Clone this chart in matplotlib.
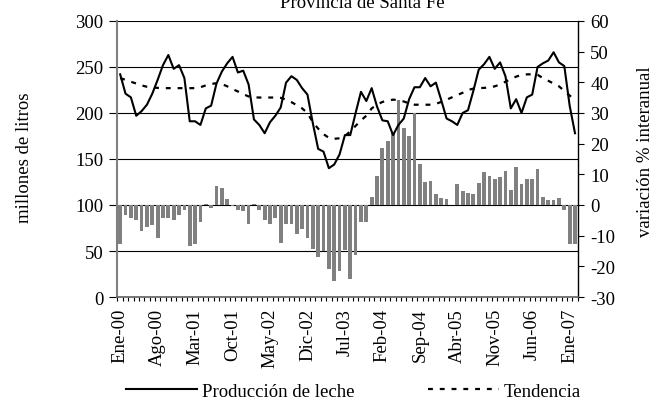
import matplotlib
matplotlib.use("Agg")
import matplotlib.pyplot as plt
from matplotlib.lines import Line2D
from matplotlib.transforms import blended_transform_factory

plt.rcParams['font.family'] = ['Liberation Serif', 'DejaVu Serif']
plt.rcParams['font.size'] = 13.5
plt.rcParams['axes.unicode_minus'] = False

# ---------------------------------------------------------------
# datos: Ene-00 .. Feb-07 (mensual)
# ---------------------------------------------------------------
meses = ['Ene', 'Feb', 'Mar', 'Abr', 'May', 'Jun',
         'Jul', 'Ago', 'Sep', 'Oct', 'Nov', 'Dic']
anios = ['00', '01', '02', '03', '04', '05', '06', '07']
n_meses = 86
categorias = [meses[k % 12] + '-' + anios[k // 12] for k in range(n_meses)]

# produccion de leche (millones de litros)
produccion = [242, 221, 217, 197, 202, 209, 221, 236, 252, 263, 248, 252,
              238, 191, 191, 187, 205, 208, 232, 245, 254, 261, 244, 246,
              231, 193, 187, 178, 190, 197, 206, 233, 240, 236, 227, 220,
              189, 161, 158, 140, 144, 155, 176, 176, 200, 223, 213, 227,
              207, 192, 191, 176, 187, 194, 215, 228, 228, 238, 229, 233,
              214, 194, 191, 187, 200, 203, 224, 247, 253, 261, 248, 255,
              240, 205, 215, 200, 217, 220, 250, 254, 257, 266, 255, 251,
              208, 178]

# tendencia
tendencia = [238, 236, 234, 232, 230, 228.5, 227.7, 227.3, 227, 227, 227, 227,
             227, 227, 227, 228, 230, 231.5, 232.4, 231.5, 229, 226, 223.4, 220.5,
             218, 217, 216.8, 216.8, 216.8, 216.8, 216.5, 214.5, 211.8, 208.5, 205, 200,
             190, 183, 177, 173, 172, 172.5, 175, 180, 186, 192, 197, 205,
             209, 212, 213.5, 214.5, 214, 212.5, 210.5, 209, 209, 209, 209, 210,
             212, 214.5, 217, 219.5, 222, 225, 226.5, 227, 227.3, 227.6, 229, 231,
             234, 237, 239.5, 241.5, 242, 242, 241.5, 238, 235, 232, 229, 224,
             219, 214]

# variacion % interanual
variacion = [-12.8, -3.3, -4.1, -5.0, -8.5, -7.2, -6.6, -10.8, -4.3, -4.2, -5.0, -3.3,
             -1.7, -13.4, -12.7, -5.6, 0.4, -1.1, 6.2, 5.7, 1.8, -0.4, -1.7, -2.1,
             -6.3, 0.3, -1.7, -5.0, -6.3, -4.3, -12.5, -6.3, -6.2, -9.5, -7.9, -10.8,
             -14.5, -17.0, -15.1, -20.8, -24.7, -21.4, -14.6, -24.1, -16.2, -5.7, -5.7, 2.7,
             9.6, 18.7, 20.9, 23.5, 34.1, 25.0, 22.4, 30.0, 13.5, 7.4, 7.9, 3.5,
             2.4, 1.8, 0.0, 7.0, 4.7, 4.0, 3.5, 7.3, 10.9, 9.5, 8.6, 9.1,
             11.1, 5.0, 12.4, 7.0, 8.6, 8.6, 11.7, 2.7, 1.7, 1.7, 2.3, -1.7,
             -12.7, -12.7]

ticks_izq = [0, 50, 100, 150, 200, 250, 300]
ticks_der = [-30, -20, -10, 0, 10, 20, 30, 40, 50, 60]

trazo_tend = (0, (2.2, 3.1))

#################################################################
fig = plt.figure(figsize=(6.59, 4.02), dpi=100)
ax = fig.add_axes([0.1783, 0.2587, 0.6983, 0.6866])
ax2 = ax.twinx()

x = list(range(n_meses))

# barras (eje derecho), por debajo de las lineas
ax2.bar(x, variacion, width=0.7, color='#808080', zorder=2)
ax2.set_ylim(-30, 60)
ax2.set_yticks(ticks_der)

# lineas de division del eje izquierdo, detras de las barras
trans = blended_transform_factory(ax2.transAxes, ax.transData)
for v in ticks_izq[1:]:
    ax2.plot([0, 1], [v, v], transform=trans, color='black', lw=0.8, zorder=1)

# lineas (eje izquierdo)
ax.set_zorder(ax2.get_zorder() + 1)
ax.patch.set_visible(False)
ax.plot(x, produccion, color='black', lw=1.5, zorder=3)
ax.plot(x, tendencia, color='black', lw=1.6, linestyle=trazo_tend, zorder=3)
ax.set_ylim(0, 300)
ax.set_yticks(ticks_izq)
ax.set_xlim(-0.5, n_meses - 0.5)

# eje de categorias
ax.set_xticks(x[::7])
ax.set_xticklabels(categorias[::7], rotation=90, va='top', ha='center')
ax.set_xticks([k - 0.5 for k in range(n_meses + 1)], minor=True)
ax.tick_params(axis='x', which='major', length=0, pad=8)
ax.tick_params(axis='x', which='minor', length=3.2, width=0.8, direction='out')
ax.tick_params(axis='y', length=5.8, width=0.8, pad=4.5)
ax2.tick_params(axis='y', length=4.5, width=0.8, pad=4.5)

ax.spines['top'].set_visible(False)
ax2.spines['top'].set_visible(False)
ax.spines['left'].set_color('#808080')
ax.spines['left'].set_linewidth(1.5)
ax.spines['bottom'].set_color('#606060')
ax.spines['bottom'].set_linewidth(1.2)
ax.spines['right'].set_visible(False)
ax2.spines['left'].set_visible(False)
ax2.spines['bottom'].set_visible(False)
ax2.spines['right'].set_linewidth(1)

# textos
fig.text(362 / 659, 1 - 8.5 / 402, 'Provincia de Santa Fe', ha='center', va='baseline')
fig.text(25 / 659, 1 - 158 / 402, 'millones de litros', rotation=90, ha='center', va='center')
fig.text(646 / 659, 1 - 152 / 402, 'variación % interanual', rotation=90, ha='center', va='center')

# leyenda
h1 = Line2D([], [], color='black', lw=1.5)
h2 = Line2D([], [], color='black', lw=1.6, linestyle=trazo_tend)
fig.legend([h1, h2], ['Producción de leche', 'Tendencia'], ncol=2, frameon=False,
           loc='center', bbox_to_anchor=(353.5 / 659, 1 - 392 / 402),
           handlelength=3.8, handletextpad=0.27, columnspacing=3.9,
           borderpad=0, borderaxespad=0)

fig.savefig('out.png', dpi=100)
